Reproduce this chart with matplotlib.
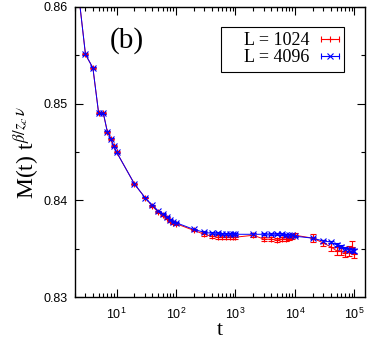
import matplotlib
matplotlib.use('Agg')
import matplotlib.pyplot as plt
from matplotlib.lines import Line2D
from matplotlib.legend_handler import HandlerBase
from matplotlib.ticker import LogLocator, MultipleLocator, NullFormatter

# time steps
t = [2, 3, 4, 5, 6, 7, 8, 9, 10,
     20, 30, 40, 50, 60, 70, 80, 90, 100,
     200, 300, 400, 500, 600, 700, 800, 900, 1000,
     2000, 3000, 4000, 5000, 6000, 7000, 8000, 9000, 10000,
     20000, 30000, 40000, 50000, 60000, 70000, 80000, 90000, 100000]

m_1024 = [0.8646, 0.8551, 0.8537, 0.8490, 0.8490, 0.8471, 0.8464, 0.8456, 0.8450,
          0.8417, 0.8403, 0.8394, 0.8388, 0.8385, 0.8382, 0.8379, 0.8377, 0.8376,
          0.8369, 0.8365, 0.8363, 0.8362, 0.8362, 0.8362, 0.8362, 0.8362, 0.8362,
          0.8364, 0.8360, 0.8360, 0.8359, 0.8360, 0.8360, 0.8361, 0.8362, 0.8364,
          0.8361, 0.8356, 0.8352, 0.8348, 0.8348, 0.8346, 0.8348, 0.8352, 0.8345]
err_1024 = [0.0001, 0.0001, 0.0001, 0.0001, 0.0001, 0.0001, 0.0001, 0.0001, 0.0001,
            0.0001, 0.0001, 0.0001, 0.0001, 0.0001, 0.0001, 0.0001, 0.0001, 0.0001,
            0.0001, 0.0002, 0.0002, 0.0002, 0.0002, 0.0002, 0.0002, 0.0002, 0.0002,
            0.0002, 0.0002, 0.0002, 0.0002, 0.0002, 0.0002, 0.0002, 0.0002, 0.0002,
            0.0004, 0.0003, 0.0004, 0.0004, 0.0004, 0.0005, 0.0005, 0.0006, 0.0005]

m_4096 = [0.8646, 0.8551, 0.8537, 0.8490, 0.8490, 0.8471, 0.8464, 0.8456, 0.8450,
          0.8417, 0.8403, 0.8395, 0.8389, 0.8386, 0.8383, 0.8380, 0.8378, 0.8377,
          0.8370, 0.8367, 0.8366, 0.8366, 0.8365, 0.8365, 0.8365, 0.8365, 0.8365,
          0.8365, 0.8365, 0.8365, 0.8365, 0.8365, 0.8364, 0.8364, 0.8364, 0.8363,
          0.8361, 0.8358, 0.8357, 0.8354, 0.8352, 0.8350, 0.8349, 0.8349, 0.8348]
err_4096 = [0.00005, 0.00005, 0.00005, 0.00005, 0.00005, 0.00005, 0.00005, 0.00005, 0.00005,
            0.00005, 0.00005, 0.00005, 0.00005, 0.00005, 0.00005, 0.00005, 0.00005, 0.00005,
            0.00005, 0.0001, 0.0001, 0.0001, 0.0001, 0.0001, 0.0001, 0.0001, 0.0001,
            0.0001, 0.0001, 0.0001, 0.0001, 0.0001, 0.0001, 0.0001, 0.0001, 0.0001,
            0.0001, 0.00015, 0.00015, 0.00015, 0.00015, 0.0002, 0.0002, 0.0002, 0.0002]

labels = ["L = 1024", "L = 4096"]
colors = ["#ff0000", "#0000ff"]
markers = ["+", "x"]


class HandlerCapBar(HandlerBase):
    # gnuplot style key sample: horizontal bar with caps and a marker in the middle
    def create_artists(self, legend, orig_handle, xdescent, ydescent,
                       width, height, fontsize, trans):
        y = height / 2 - ydescent
        c = orig_handle.get_color()
        x0, x1 = -xdescent, width - xdescent
        bar = Line2D([x0, x1], [y, y], color=c, lw=0.8, transform=trans)
        caps = Line2D([x0, x1], [y, y], ls='none', marker='|', ms=4,
                      mew=0.8, color=c, transform=trans)
        mark = Line2D([(x0 + x1) / 2], [y], ls='none', marker=orig_handle.get_marker(),
                      ms=4.5, mew=0.8, color=c, transform=trans)
        return [bar, caps, mark]


plt.rcParams['font.family'] = ['Liberation Sans', 'DejaVu Sans']
plt.rcParams['mathtext.fontset'] = 'stix'

fig = plt.figure(figsize=(3.75, 3.5), dpi=100)
ax = fig.add_axes([0.2, 0.151, 0.773, 0.829])

for m, e, c, mk in [(m_1024, err_1024, colors[0], markers[0]),
                    (m_4096, err_4096, colors[1], markers[1])]:
    ax.errorbar(t, m, yerr=e, color=c, marker=mk, ms=4.5, mew=0.8, lw=0.7,
                elinewidth=0.8, capsize=2, capthick=0.8)

ax.set_xscale('log')
ax.set_xlim(2.0, 1.5e5)
ax.set_ylim(0.83, 0.86)
ax.xaxis.set_major_locator(LogLocator(base=10, numticks=10))
ax.xaxis.set_minor_locator(LogLocator(base=10, subs=range(2, 10), numticks=20))
ax.xaxis.set_minor_formatter(NullFormatter())
ax.yaxis.set_major_locator(MultipleLocator(0.01))
ax.yaxis.set_minor_locator(MultipleLocator(0.005))
ax.set_yticks([0.83, 0.84, 0.85, 0.86])
ax.set_yticklabels(["0.83", "0.84", "0.85", "0.86"])

ax.tick_params(which='both', direction='in', top=True, right=True, labelsize=9, width=0.8)
ax.tick_params(which='major', length=6)
ax.tick_params(which='minor', length=3)
ax.tick_params(axis='x', pad=7)
ax.tick_params(axis='y', pad=5)
for s in ax.spines.values():
    s.set_linewidth(1.0)

ax.set_xlabel("t", family='Liberation Serif', fontsize=16, labelpad=-1)
ax.set_ylabel(r"M(t) t$^{\beta/z_c\,\nu}$", family='Liberation Serif', fontsize=17, labelpad=2)

ax.text(0.18, 0.886, "(b)", transform=ax.transAxes, family='Liberation Serif',
        fontsize=21, ha='center', va='center')

handles = [Line2D([], [], color=c, marker=mk) for c, mk in zip(colors, markers)]
leg = ax.legend(handles, ["    " + l for l in labels], loc='upper right',
                bbox_to_anchor=(0.928, 0.931), markerfirst=False, fancybox=False,
                framealpha=1, edgecolor='black', handlelength=1.0, handletextpad=0.6,
                borderpad=0.3, labelspacing=0.0, borderaxespad=0,
                prop={'family': 'Liberation Serif', 'size': 13},
                handler_map={Line2D: HandlerCapBar()})
leg.get_frame().set_linewidth(0.8)

plt.savefig("out.png", dpi=100)
